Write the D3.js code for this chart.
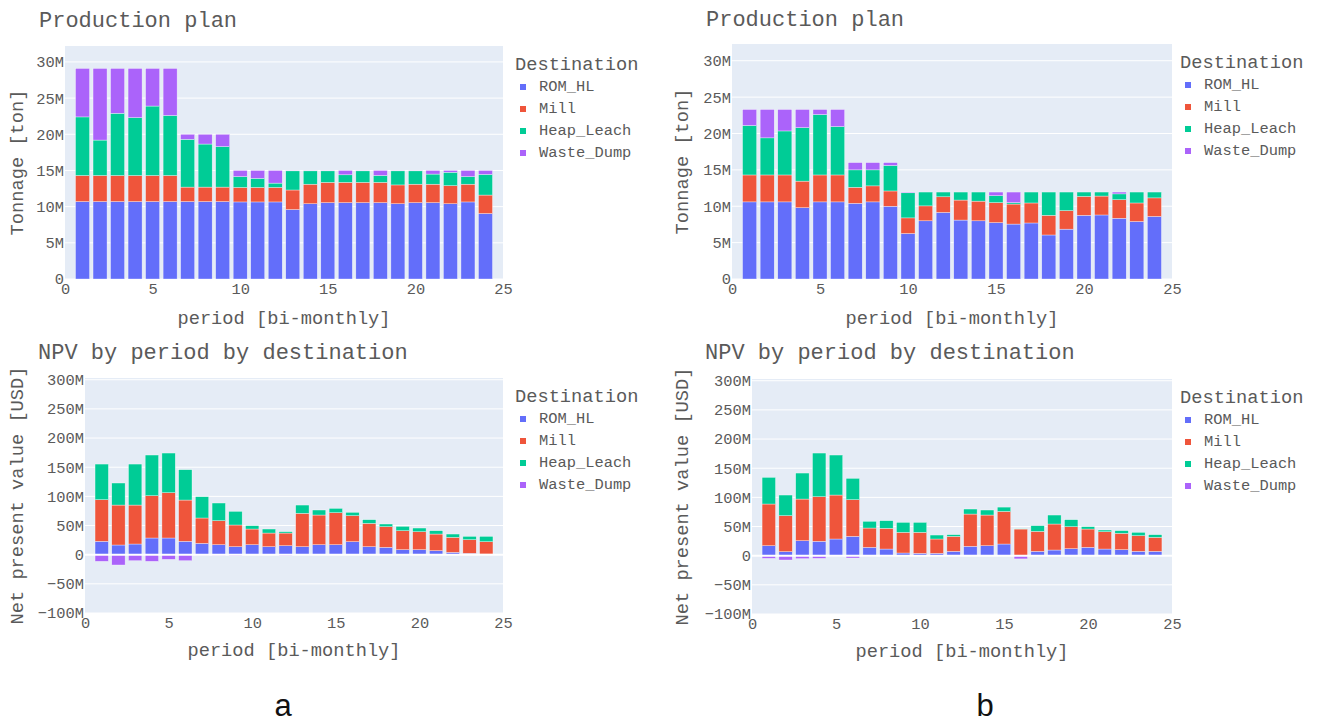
<!DOCTYPE html>
<html>
<head>
<meta charset="utf-8">
<script src="https://cdn.jsdelivr.net/npm/d3@7"></script>
<style>
  html, body { margin: 0; padding: 0; background: #ffffff; }
  svg { display: block; }
  text { font-family: "Liberation Mono", "Courier New", monospace; fill: #5a5a5a; }
</style>
</head>
<body>
<svg id="chart" width="1318" height="724"></svg>
<script>
// ---- data -----------------------------------------------------------
const periods = [1,2,3,4,5,6,7,8,9,10,11,12,13,14,15,16,17,18,19,20,21,22,23,24];
const destinations = ["ROM_HL", "Mill", "Heap_Leach", "Waste_Dump"];
const destColors = ["#636efa", "#ef553b", "#00cc96", "#ab63fa"];

// Scenario a: tonnage by destination [M ton]
const romTonA   = [10.7,10.7,10.7,10.7,10.7,10.7,10.7,10.7,10.7,10.65,10.65,10.65,9.6,10.4,10.55,10.55,10.55,10.55,10.4,10.55,10.55,10.4,10.65,9.05];
const millTonA  = [3.6,3.6,3.6,3.6,3.6,3.6,2.0,2.0,2.0,2.0,2.0,2.0,2.7,2.7,2.8,2.8,2.8,2.8,2.6,2.55,2.55,2.5,2.45,2.55];
const heapTonA  = [8.1,4.9,8.6,8.0,9.6,8.3,6.6,5.95,5.6,1.5,1.25,0.6,2.65,1.85,1.6,1.05,1.6,0.95,1.95,1.85,1.4,1.85,1.05,2.85];
const wasteTonA = [6.7,9.9,6.2,6.8,5.2,6.5,0.7,1.35,1.7,0.85,1.1,1.75,0.05,0.05,0.05,0.6,0.05,0.7,0.05,0.05,0.5,0.25,0.85,0.55];

// Scenario a: NPV by destination [M USD]
const romNpvA   = [22.9,16.6,18.3,28.6,28.6,22.9,19.4,17.1,13.7,17.1,13.7,15.4,13.7,17.1,17.1,22.3,13.7,12.6,8.6,8.6,6.9,4.0,2.3,1.1];
const millNpvA  = [71.4,68.5,66.8,72.5,77.7,70.8,43.5,41.2,37.2,26.9,23.4,21.7,57.2,50.9,54.9,44.6,40.0,35.4,32.5,30.8,28.5,25.7,23.4,21.2];
const heapNpvA  = [61.1,37.8,70.3,69.8,68.0,52.0,36.5,30.3,23.4,5.7,6.9,2.3,14.2,8.6,7.4,5.7,6.3,4.6,7.5,6.3,5.7,5.7,5.7,9.1];
const wasteNpvA = [-11.4,-17.7,-10.3,-11.4,-8.0,-10.3,-1.0,-1.5,-2.0,-0.5,-0.5,-2.0,-0.3,-0.3,-0.3,-0.3,-0.3,-0.3,-0.3,-0.3,-0.3,-0.3,-0.5,-0.3];

// Scenario b: tonnage by destination [M ton]
const romTonB   = [10.6,10.6,10.6,9.8,10.6,10.6,10.4,10.6,10.0,6.25,8.0,9.15,8.1,8.0,7.75,7.55,7.7,6.05,6.85,8.75,8.8,8.35,7.9,8.6];
const millTonB  = [3.7,3.7,3.7,3.65,3.7,3.7,2.2,2.2,2.1,2.15,2.05,2.15,2.75,2.7,2.75,2.75,2.75,2.7,2.55,2.6,2.6,2.55,2.55,2.55];
const heapTonB  = [6.8,5.1,6.05,7.35,8.3,6.65,2.4,2.2,3.5,3.45,1.9,0.65,1.1,1.25,0.95,0.2,1.5,3.2,2.55,0.6,0.55,0.8,1.5,0.8];
const wasteTonB = [2.2,3.9,2.95,2.5,0.7,2.35,1.0,1.0,0.4,0.1,0,0,0,0,0.5,1.45,0,0,0,0,0,0.25,0,0];

// Scenario b: NPV by destination [M USD]
const romNpvB   = [17.1,6.9,25.7,24.6,28.6,33.1,14.3,11.4,4.6,4.0,4.0,7.4,16.0,17.1,20.0,0.5,7.4,9.7,12.0,14.3,11.4,10.3,7.4,7.4];
const millNpvB  = [71.5,61.7,71.4,76.5,75.4,62.9,33.1,35.5,35.4,36.0,24.6,25.7,55.4,52.6,55.9,45.2,34.3,44.6,37.7,31.4,29.7,28.0,26.9,24.0];
const heapNpvB  = [45.7,35.4,44.6,74.9,68.6,36.6,11.5,13.1,17.1,17.1,6.8,2.9,8.6,8.6,7.4,0.5,9.7,15.4,12.0,4.0,2.9,4.6,5.7,4.6];
const wasteNpvB = [-4.6,-7.4,-5.1,-4.6,-1.0,-4.0,-1.0,-1.0,-0.5,-0.5,-0.3,-0.3,-0.3,-0.3,-0.3,-5.5,-0.3,-0.3,-0.3,-0.3,-0.3,-0.3,-0.3,-0.3];

// Axis ticks
const xTicks = [0, 5, 10, 15, 20, 25];
const tonTicks = [0, 5, 10, 15, 20, 25, 30];
const tonTickLabels = ["0", "5M", "10M", "15M", "20M", "25M", "30M"];
const npvTicks = [-100, -50, 0, 50, 100, 150, 200, 250, 300];
const npvTickLabels = ["\u2212100M", "\u221250M", "0", "50M", "100M", "150M", "200M", "250M", "300M"];

// ---- drawing --------------------------------------------------------
const svg = d3.select("#chart");

function rows(series) {
  return periods.map((p, i) => {
    const r = { period: p };
    destinations.forEach((d, k) => { r[d] = series[k][i]; });
    return r;
  });
}

function drawPanel(cfg) {
  const g = svg.append("g");
  const x = d3.scaleLinear().domain([0, 25]).range([cfg.left, cfg.right]);
  const y = d3.scaleLinear().domain(cfg.yDomain).range([cfg.bottom, cfg.top]);

  // plot background
  g.append("rect")
    .attr("x", cfg.left).attr("y", cfg.top)
    .attr("width", cfg.right - cfg.left).attr("height", cfg.bottom - cfg.top)
    .attr("fill", "#e5ecf6");

  // horizontal grid
  g.append("g").selectAll("line").data(cfg.ticks.filter(t => t !== 0 || !cfg.zeroLine))
    .join("line")
    .attr("x1", cfg.left).attr("x2", cfg.right)
    .attr("y1", d => y(d)).attr("y2", d => y(d))
    .attr("stroke", "#ffffff").attr("stroke-width", 1);

  // stacked bars (negative values stack downward from zero)
  const data = rows(cfg.series);
  const stacked = d3.stack().keys(destinations).offset(d3.stackOffsetDiverging)(data);
  const bw = (x(1) - x(0)) * 0.8;
  g.append("g").selectAll("g").data(stacked).join("g")
    .attr("fill", (d, i) => destColors[i])
    .selectAll("rect").data(d => d).join("rect")
    .attr("x", d => x(d.data.period) - bw / 2)
    .attr("width", bw)
    .attr("y", d => y(Math.max(d[0], d[1])))
    .attr("height", d => Math.abs(y(d[0]) - y(d[1])))
    .attr("stroke", "#ffffff").attr("stroke-width", 0.5).attr("stroke-opacity", 0.7);

  if (cfg.zeroLine) {
    g.append("line")
      .attr("x1", cfg.left).attr("x2", cfg.right)
      .attr("y1", y(0)).attr("y2", y(0))
      .attr("stroke", "#ffffff").attr("stroke-width", 2);
  }

  // y axis tick labels
  const yAxis = d3.axisLeft(y).tickValues(cfg.ticks)
    .tickFormat((d, i) => cfg.tickLabels[i]).tickSize(0).tickPadding(1);
  const ya = g.append("g").attr("transform", `translate(${cfg.left},0)`).call(yAxis);
  ya.select(".domain").remove();
  ya.selectAll("text").style("font-size", "15.4px").attr("fill", "#5a5a5a")
    .style("font-family", "'Liberation Mono', monospace");

  // x axis tick labels
  const xAxis = d3.axisBottom(x).tickValues(xTicks).tickFormat(d3.format("d"))
    .tickSize(0).tickPadding(4);
  const xa = g.append("g").attr("transform", `translate(0,${cfg.bottom})`).call(xAxis);
  xa.select(".domain").remove();
  xa.selectAll("text").style("font-size", "15.4px").attr("fill", "#5a5a5a")
    .style("font-family", "'Liberation Mono', monospace");

  // chart title
  g.append("text").attr("x", cfg.titleX).attr("y", cfg.titleY)
    .style("font-size", "22px").text(cfg.title);

  // axis titles
  g.append("text")
    .attr("x", (cfg.left + cfg.right) / 2).attr("y", cfg.xTitleY)
    .attr("text-anchor", "middle").attr("dominant-baseline", "central")
    .style("font-size", "18.7px").text("period [bi-monthly]");
  g.append("text")
    .attr("transform", `translate(${cfg.yTitleX},${(cfg.top + cfg.bottom) / 2}) rotate(-90)`)
    .attr("text-anchor", "middle").attr("dominant-baseline", "central")
    .style("font-size", "18.7px").text(cfg.yTitle);

  // legend
  const lg = g.append("g").attr("transform", `translate(${cfg.legendX},${cfg.top})`);
  lg.append("text").attr("x", 0).attr("y", 19).attr("dominant-baseline", "central")
    .style("font-size", "18.7px").text("Destination");
  const items = lg.selectAll("g.item").data(destinations).join("g")
    .attr("class", "item")
    .attr("transform", (d, i) => `translate(0,${41 + i * 22})`);
  items.append("rect").attr("x", 5).attr("y", -3).attr("width", 6).attr("height", 6)
    .attr("fill", (d, i) => destColors[i]);
  items.append("text").attr("x", 24).attr("y", 0).attr("dominant-baseline", "central")
    .style("font-size", "15.4px").text(d => d);
}

const panels = [
  { series: [romTonA, millTonA, heapTonA, wasteTonA], left: 65, right: 503, top: 46, bottom: 279,
    yDomain: [0, 32.2], ticks: tonTicks, tickLabels: tonTickLabels, zeroLine: false,
    title: "Production plan", titleX: 39, titleY: 27, xTitleY: 319, yTitleX: 18,
    yTitle: "Tonnage [ton]", legendX: 515 },
  { series: [romNpvA, millNpvA, heapNpvA, wasteNpvA], left: 85, right: 503, top: 378, bottom: 613,
    yDomain: [-100, 303], ticks: npvTicks, tickLabels: npvTickLabels, zeroLine: true,
    title: "NPV by period by destination", titleX: 38, titleY: 359, xTitleY: 651, yTitleX: 18,
    yTitle: "Net present value [USD]", legendX: 515 },
  { series: [romTonB, millTonB, heapTonB, wasteTonB], left: 732, right: 1172, top: 44, bottom: 279,
    yDomain: [0, 32.3], ticks: tonTicks, tickLabels: tonTickLabels, zeroLine: false,
    title: "Production plan", titleX: 706, titleY: 26, xTitleY: 319, yTitleX: 683,
    yTitle: "Tonnage [ton]", legendX: 1180 },
  { series: [romNpvB, millNpvB, heapNpvB, wasteNpvB], left: 752, right: 1172, top: 379, bottom: 614,
    yDomain: [-100, 303], ticks: npvTicks, tickLabels: npvTickLabels, zeroLine: true,
    title: "NPV by period by destination", titleX: 705, titleY: 359, xTitleY: 652, yTitleX: 683,
    yTitle: "Net present value [USD]", legendX: 1180 }
];
panels.forEach(drawPanel);

// scenario captions
svg.selectAll("text.caption").data(["a", "b"]).join("text")
  .attr("class", "caption")
  .attr("x", (d, i) => [283, 985][i]).attr("y", 716)
  .attr("text-anchor", "middle")
  .style("font-family", "'Liberation Sans Narrow', 'Liberation Sans', Arial, sans-serif")
  .style("font-size", "31px").style("fill", "#111111")
  .text(d => d);
</script>
</body>
</html>
